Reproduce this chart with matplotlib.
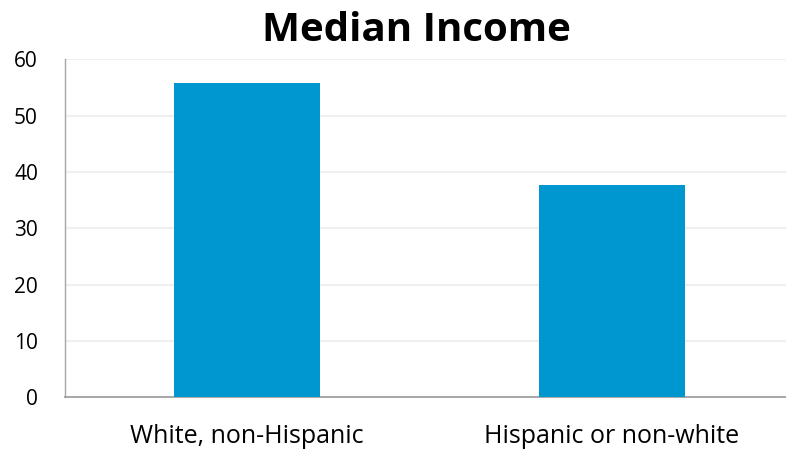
import matplotlib
matplotlib.use("Agg")
import matplotlib.pyplot as plt

# Median income by group (thousands of dollars)
groups = ["White, non-Hispanic", "Hispanic or non-white"]
income = [55.8, 37.7]
y_ticks = [0, 10, 20, 30, 40, 50, 60]

BAR_COLOR = "#0097D1"
FONT = ["Open Sans", "DejaVu Sans"]

fig = plt.figure(figsize=(7.86, 4.49), dpi=100, facecolor="white")
ax = fig.add_axes([65 / 786, (449 - 397.3) / 449, (786 - 65) / 786, (397.3 - 59.3) / 449])

x = range(len(groups))
ax.bar(x, income, width=0.4, color=BAR_COLOR, zorder=3)

ax.set_xlim(-0.4986, 1.4767)
ax.set_ylim(0, 60)
ax.set_yticks(y_ticks)
ax.set_xticks(list(x))
ax.set_xticklabels(groups, fontsize=18, family=FONT)
for lbl in ax.get_yticklabels():
    lbl.set_family(FONT)
    lbl.set_fontsize(15)

ax.grid(axis="y", color="#EFEFEF", linewidth=1.5, zorder=0)
ax.tick_params(axis="both", length=0, colors="black")
ax.tick_params(axis="y", pad=19.5)
ax.tick_params(axis="x", pad=19)

for side in ("top", "right"):
    ax.spines[side].set_visible(False)
ax.spines["left"].set_color("#A6A6A6")
ax.spines["bottom"].set_color("#999999")
ax.spines["left"].set_linewidth(1)
ax.spines["bottom"].set_linewidth(1.2)

fig.text(416 / 786, 1 - 41 / 449, "Median Income", ha="center", va="baseline",
         fontsize=29, fontweight="bold", family=FONT)

fig.savefig("out.png", dpi=100, facecolor="white")
